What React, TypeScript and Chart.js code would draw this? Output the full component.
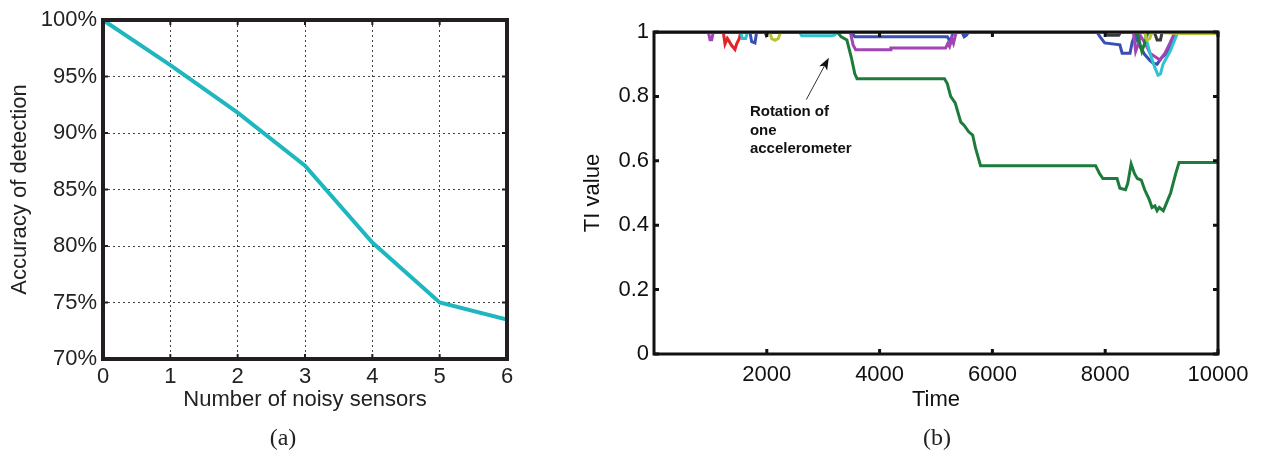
import React, { useEffect, useRef } from "react";
import { Chart, registerables } from "chart.js";

Chart.register(...registerables);

// ---------- (a) accuracy vs noisy sensors ----------
const sensorCounts = [0, 1, 2, 3, 4, 5, 6];
const accuracy = [100, 96.0, 91.8, 87.1, 80.3, 75.0, 73.5];
const accuracyTicks = [70, 75, 80, 85, 90, 95, 100];

// ---------- (b) TI value over time ----------
const timeTicks = [2000, 4000, 6000, 8000, 10000];
const tiTicks = [0, 0.2, 0.4, 0.6, 0.8, 1];
const tiTickLabels = ["0", "0.2", "0.4", "0.6", "0.8", "1"];

const greenTime = [0, 3250, 3320, 3420, 3500, 3560, 3600, 5150, 5200, 5260, 5340, 5440, 5500, 5580, 5650, 5700, 5790, 7830, 7900, 7960, 8210, 8260, 8360, 8400, 8460, 8520, 8570, 8640, 8700, 8780, 8830, 8880, 8920, 8960, 9030, 9090, 9160, 9250, 9310, 10000];
const greenTI = [1, 1, 0.985, 0.975, 0.92, 0.87, 0.855, 0.855, 0.84, 0.8, 0.78, 0.72, 0.71, 0.69, 0.68, 0.64, 0.585, 0.585, 0.56, 0.545, 0.545, 0.515, 0.51, 0.53, 0.59, 0.56, 0.545, 0.54, 0.51, 0.48, 0.455, 0.46, 0.445, 0.455, 0.445, 0.47, 0.5, 0.56, 0.595, 0.595];

const green2Time = [0, 8560, 8600, 8650, 8700, 8760, 10000];
const green2TI = [1, 1, 0.975, 0.94, 0.965, 1, 1];

const blueTime = [0, 1700, 1732, 1790, 1820, 3500, 3560, 5200, 5260, 5300, 5460, 5500, 5540, 5580, 7850, 7910, 7990, 8260, 8300, 8440, 8480, 8530, 8600, 8700, 8800, 8850, 8920, 9000, 9100, 9180, 9270, 10000];
const blueTI = [1, 1, 0.97, 0.966, 1, 1, 0.985, 0.985, 0.97, 1, 1, 0.985, 0.99, 1, 1, 0.985, 0.966, 0.96, 0.934, 0.934, 0.97, 0.99, 0.96, 0.93, 0.91, 0.903, 0.9, 0.92, 0.935, 0.966, 1, 1];

const purpleTime = [0, 963, 993, 1023, 1052, 3480, 3530, 3575, 4190, 4200, 5170, 5210, 5240, 5280, 5310, 5360, 8500, 8540, 8580, 8620, 8741, 8794, 8971, 9060, 9149, 9238, 10000];
const purpleTI = [1, 1, 0.976, 0.976, 1, 1, 0.96, 0.945, 0.945, 0.95, 0.95, 0.965, 0.955, 0.98, 0.965, 1, 1, 0.94, 0.96, 0.99, 0.954, 0.934, 0.913, 0.934, 0.966, 1, 1];

const redTime = [0, 1229, 1259, 1300, 1336, 1378, 1436, 1466, 1513, 1537, 10000];
const redTI = [1, 1, 0.963, 0.98, 0.97, 0.958, 0.946, 0.963, 0.98, 1, 1];

const cyanTime = [0, 1537, 1566, 1625, 1655, 2580, 2620, 3140, 3200, 3250, 8700, 8740, 8800, 8880, 8936, 8980, 9025, 9150, 9220, 9290, 10000];
const cyanTI = [1, 1, 0.98, 0.98, 1, 1, 0.988, 0.988, 0.99, 1, 1, 0.97, 0.93, 0.89, 0.866, 0.87, 0.9, 0.94, 0.97, 1, 1];

const blackTime = [0, 1967, 1990, 2026, 8000, 8050, 8240, 8280, 8870, 8920, 8980, 9010, 10000];
const blackTI = [1, 1, 0.99, 1, 1, 0.99, 0.99, 1, 1, 0.975, 0.975, 1, 1];

const yellowTime = [0, 2056, 2085, 2145, 2204, 2246, 8700, 8740, 8790, 8830, 9300, 10000];
const yellowTI = [1, 1, 0.98, 0.974, 0.98, 1, 1, 0.975, 0.98, 1, 0.995, 0.995];

const FONT = '"Liberation Sans", Arial, Helvetica, sans-serif';

function toPoints(xs: number[], ys: number[]) {
  return xs.map((x, i) => ({ x, y: ys[i] }));
}

function framePlugin(width: number, color: string, tickLen: number, tickWidth: number) {
  return {
    id: "frame",
    afterDatasetsDraw(chart: any) {
      const { ctx, chartArea: a, scales } = chart;
      ctx.save();
      ctx.strokeStyle = color;
      ctx.lineWidth = tickWidth;
      ctx.beginPath();
      scales.x.ticks.forEach((t: any) => {
        const p = scales.x.getPixelForValue(t.value);
        ctx.moveTo(p, a.bottom);
        ctx.lineTo(p, a.bottom - tickLen);
        ctx.moveTo(p, a.top);
        ctx.lineTo(p, a.top + tickLen);
      });
      scales.y.ticks.forEach((t: any) => {
        const p = scales.y.getPixelForValue(t.value);
        ctx.moveTo(a.left, p);
        ctx.lineTo(a.left + tickLen, p);
        ctx.moveTo(a.right, p);
        ctx.lineTo(a.right - tickLen, p);
      });
      ctx.stroke();
      ctx.lineWidth = width;
      ctx.strokeRect(a.left, a.top, a.right - a.left, a.bottom - a.top);
      ctx.restore();
    },
  };
}

const notePlugin = {
  id: "note",
  afterDatasetsDraw(chart: any) {
    const { ctx, scales } = chart;
    const x = scales.x, y = scales.y;
    ctx.save();
    ctx.fillStyle = "#111";
    ctx.font = `bold 15px ${FONT}`;
    ctx.textAlign = "left";
    ctx.textBaseline = "middle";
    const tx = x.getPixelForValue(1700);
    ["Rotation of", "one", "accelerometer"].forEach((s, i) => {
      ctx.fillText(s, tx, y.getPixelForValue([0.753, 0.694, 0.637][i]));
    });
    const x1 = x.getPixelForValue(2700), y1 = y.getPixelForValue(0.79);
    const x2 = x.getPixelForValue(3100), y2 = y.getPixelForValue(0.92);
    const ang = Math.atan2(y2 - y1, x2 - x1);
    ctx.strokeStyle = "#333";
    ctx.lineWidth = 1;
    ctx.beginPath();
    ctx.moveTo(x1, y1);
    ctx.lineTo(x2 - 8 * Math.cos(ang), y2 - 8 * Math.sin(ang));
    ctx.stroke();
    ctx.fillStyle = "#111";
    ctx.beginPath();
    ctx.moveTo(x2, y2);
    ctx.lineTo(x2 - 12 * Math.cos(ang) + 4.5 * Math.sin(ang), y2 - 12 * Math.sin(ang) - 4.5 * Math.cos(ang));
    ctx.lineTo(x2 - 9 * Math.cos(ang), y2 - 9 * Math.sin(ang));
    ctx.lineTo(x2 - 12 * Math.cos(ang) - 4.5 * Math.sin(ang), y2 - 12 * Math.sin(ang) + 4.5 * Math.cos(ang));
    ctx.closePath();
    ctx.fill();
    ctx.restore();
  },
};

export default function App() {
  const leftRef = useRef<HTMLCanvasElement>(null);
  const rightRef = useRef<HTMLCanvasElement>(null);

  useEffect(() => {
    const left = new Chart(leftRef.current as HTMLCanvasElement, {
      type: "line",
      data: {
        datasets: [
          {
            data: toPoints(sensorCounts, accuracy),
            borderColor: "#1fb7bf",
            borderWidth: 4,
            pointRadius: 0,
            tension: 0,
          },
        ],
      },
      options: {
        animation: false,
        responsive: false,
        devicePixelRatio: 1,
        layout: { padding: { left: 7, right: 53, top: 20, bottom: 0 } },
        plugins: { legend: { display: false }, tooltip: { enabled: false } },
        scales: {
          x: {
            type: "linear",
            min: 0,
            max: 6,
            afterBuildTicks: (s: any) => { s.ticks = sensorCounts.map((v) => ({ value: v })); },
            afterFit: (s: any) => { s.height = 98; },
            grid: { color: "#444", lineWidth: 1, drawTicks: false },
            border: { display: false, dash: [2, 3] },
            ticks: { color: "#222", font: { family: FONT, size: 22 }, padding: 5, maxRotation: 0 },
            title: { display: true, text: "Number of noisy sensors", color: "#222", font: { family: FONT, size: 22 }, padding: { top: 0, bottom: 44 } },
          },
          y: {
            min: 70,
            max: 100,
            afterBuildTicks: (s: any) => { s.ticks = accuracyTicks.map((v) => ({ value: v })); },
            afterFit: (s: any) => { s.width = 96; },
            grid: { color: "#444", lineWidth: 1, drawTicks: false },
            border: { display: false, dash: [2, 3] },
            ticks: { color: "#222", font: { family: FONT, size: 22 }, padding: 6, callback: (v: any) => v + "%" },
            title: { display: true, text: "Accuracy of detection", color: "#222", font: { family: FONT, size: 22 }, padding: { top: 0, bottom: 0 } },
          },
        },
      },
      plugins: [framePlugin(4, "#231f20", 5, 2)],
    } as any);

    const mk = (xs: number[], ys: number[], color: string) => ({
      data: toPoints(xs, ys),
      borderColor: color,
      borderWidth: 3,
      pointRadius: 0,
      tension: 0,
    });

    const right = new Chart(rightRef.current as HTMLCanvasElement, {
      type: "line",
      data: {
        datasets: [
          mk(greenTime, greenTI, "#1d7c3b"),
          mk(yellowTime, yellowTI, "#b9c42a"),
          mk(blackTime, blackTI, "#3a3a3a"),
          mk(green2Time, green2TI, "#1d7c3b"),
          mk(cyanTime, cyanTI, "#2fc3cf"),
          mk(purpleTime, purpleTI, "#a344b4"),
          mk(blueTime, blueTI, "#3a4fb4"),
          mk(redTime, redTI, "#e5212a"),
        ],
      },
      options: {
        animation: false,
        responsive: false,
        devicePixelRatio: 1,
        layout: { padding: { left: 20, right: 53, top: 32, bottom: 0 } },
        plugins: { legend: { display: false }, tooltip: { enabled: false } },
        scales: {
          x: {
            type: "linear",
            min: 0,
            max: 10000,
            afterBuildTicks: (s: any) => { s.ticks = timeTicks.map((v) => ({ value: v })); },
            afterFit: (s: any) => { s.height = 103; },
            grid: { display: false, drawTicks: false },
            border: { display: false },
            ticks: { color: "#111", font: { family: FONT, size: 22 }, padding: 8, maxRotation: 0, callback: (v: any) => String(v) },
            title: { display: true, text: "Time", color: "#111", font: { family: FONT, size: 22 }, padding: { top: 0, bottom: 44 } },
          },
          y: {
            min: 0,
            max: 1,
            afterBuildTicks: (s: any) => { s.ticks = tiTicks.map((v) => ({ value: v })); },
            afterFit: (s: any) => { s.width = 74; },
            grid: { display: false, drawTicks: false },
            border: { display: false },
            ticks: { color: "#111", font: { family: FONT, size: 22 }, padding: 5, callback: (_v: any, i: number) => tiTickLabels[i] },
            title: { display: true, text: "TI value", color: "#111", font: { family: FONT, size: 22 }, padding: { top: 0, bottom: 0 } },
          },
        },
      },
      plugins: [notePlugin, framePlugin(3, "#111", 5, 3)],
    } as any);

    return () => {
      left.destroy();
      right.destroy();
    };
  }, []);

  const caption: React.CSSProperties = {
    position: "absolute",
    top: 437,
    transform: "translate(-50%, -50%)",
    font: '24px "Liberation Serif", "Times New Roman", serif',
    color: "#222",
    whiteSpace: "nowrap",
  };

  return (
    <div style={{ position: "absolute", left: 0, top: 0, width: 1271, height: 457, background: "#fff", overflow: "hidden" }}>
      <canvas ref={leftRef} width={560} height={457} style={{ position: "absolute", left: 0, top: 0, width: 560, height: 457 }} />
      <canvas ref={rightRef} width={711} height={457} style={{ position: "absolute", left: 560, top: 0, width: 711, height: 457 }} />
      <div style={{ ...caption, left: 283 }}>(a)</div>
      <div style={{ ...caption, left: 937 }}>(b)</div>
    </div>
  );
}
